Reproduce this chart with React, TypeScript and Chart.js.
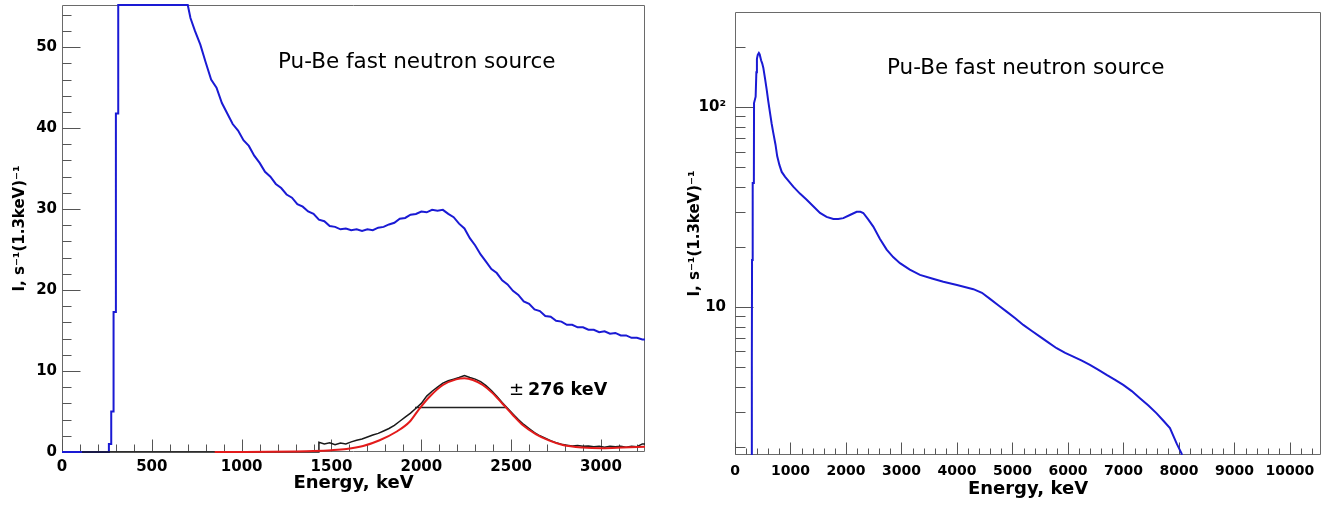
import React, { useEffect, useRef } from 'react';
import { Chart, registerables } from 'chart.js';

Chart.register(...registerables);

const FONT = '"DejaVu Sans", "Liberation Sans", sans-serif';

// ---------------- Left panel (linear) ----------------
const L_X_MAX = 3245;
const L_Y_MAX = 55.2;
const L_X_TICKS = [0, 500, 1000, 1500, 2000, 2500, 3000];
const L_Y_TICKS = [0, 10, 20, 30, 40, 50];

// blue spectrum (keV, intensity); leading pairs reproduce the histogram rising edge
const BLUE_E = [0, 261, 261, 274, 274, 287, 287, 300, 300, 313, 313, 330, 360, 400, 430, 470, 510, 560, 610, 660, 700, 715, 740, 770, 800, 830, 860, 890, 920, 950, 980, 1010, 1040, 1070, 1100, 1130, 1160, 1190, 1220, 1250, 1280, 1310, 1340, 1370, 1400, 1430, 1460, 1490, 1520, 1550, 1580, 1610, 1640, 1670, 1700, 1730, 1760, 1790, 1820, 1850, 1880, 1910, 1940, 1970, 2000, 2030, 2060, 2090, 2120, 2150, 2180, 2210, 2240, 2270, 2300, 2330, 2360, 2390, 2420, 2450, 2480, 2510, 2540, 2570, 2600, 2630, 2660, 2690, 2720, 2750, 2780, 2810, 2840, 2870, 2900, 2930, 2960, 2990, 3020, 3050, 3080, 3110, 3140, 3170, 3200, 3230, 3260];
const BLUE_V = [0, 0, 1.0, 1.0, 5.0, 5.0, 17.3, 17.3, 41.8, 41.8, 113, 165, 184, 187, 183, 172, 150, 118, 92, 72, 56, 53.6, 52.0, 50.3, 48.1, 46.0, 45.0, 43.1, 41.8, 40.5, 39.7, 38.5, 37.8, 36.6, 35.7, 34.6, 34.0, 33.1, 32.6, 31.8, 31.4, 30.6, 30.3, 29.7, 29.4, 28.7, 28.5, 27.9, 27.8, 27.5, 27.6, 27.4, 27.5, 27.3, 27.5, 27.4, 27.7, 27.8, 28.1, 28.3, 28.8, 28.9, 29.3, 29.4, 29.7, 29.6, 29.9, 29.8, 29.9, 29.4, 29.0, 28.2, 27.6, 26.4, 25.5, 24.4, 23.5, 22.6, 22.1, 21.2, 20.7, 19.9, 19.4, 18.6, 18.3, 17.6, 17.4, 16.8, 16.7, 16.2, 16.1, 15.7, 15.7, 15.4, 15.4, 15.1, 15.1, 14.8, 14.9, 14.6, 14.7, 14.4, 14.4, 14.1, 14.1, 13.9, 13.9];

// black (background-subtracted) spectrum
const BLACK_E = [111, 1430, 1430, 1460, 1490, 1520, 1550, 1580, 1610, 1640, 1670, 1700, 1730, 1760, 1790, 1820, 1850, 1880, 1910, 1940, 1970, 2000, 2030, 2060, 2090, 2120, 2150, 2180, 2210, 2240, 2270, 2300, 2330, 2360, 2390, 2420, 2450, 2480, 2510, 2540, 2570, 2600, 2630, 2660, 2690, 2720, 2750, 2780, 2810, 2840, 2870, 2900, 2930, 2960, 2990, 3020, 3050, 3080, 3110, 3140, 3170, 3200, 3230, 3260];
const BLACK_V = [0, 0, 1.2, 1.0, 1.15, 0.9, 1.1, 1.0, 1.25, 1.45, 1.6, 1.85, 2.1, 2.3, 2.6, 2.9, 3.3, 3.8, 4.3, 4.8, 5.4, 6.0, 6.9, 7.5, 8.0, 8.5, 8.8, 9.0, 9.2, 9.45, 9.2, 9.0, 8.7, 8.2, 7.6, 6.9, 6.1, 5.4, 4.7, 4.0, 3.4, 2.9, 2.4, 2.0, 1.7, 1.4, 1.15, 0.95, 0.85, 0.75, 0.8, 0.7, 0.75, 0.65, 0.7, 0.6, 0.7, 0.65, 0.7, 0.6, 0.7, 0.65, 1.0, 1.0];

// red fit
const FIT_E = [850, 1000, 1150, 1300, 1400, 1500, 1583, 1676, 1768, 1861, 1935, 1991, 2046, 2120, 2194, 2240, 2287, 2342, 2398, 2453, 2509, 2564, 2639, 2713, 2787, 2898, 3009, 3120, 3245];
const FIT_V = [0.0, 0.01, 0.03, 0.07, 0.12, 0.22, 0.37, 0.74, 1.45, 2.5, 3.74, 5.4, 6.83, 8.27, 8.97, 9.1, 8.89, 8.27, 7.24, 5.93, 4.57, 3.33, 2.18, 1.40, 0.86, 0.55, 0.47, 0.55, 0.66];

// FWHM marker
const FWHM_E = [1965, 2470];
const FWHM_V = [5.5, 5.5];

// ---------------- Right panel (log) ----------------
const R_X_MAX = 10560;
const R_Y_MIN = 1.82;
const R_Y_MAX = 300;
const R_X_TICKS = [0, 1000, 2000, 3000, 4000, 5000, 6000, 7000, 8000, 9000, 10000];
const R_Y_TICKS = [10, 100];

const LOG_E = [300, 301, 306, 307, 318, 320, 340, 343, 372, 385, 395, 410, 430, 445, 470, 490, 510, 540, 571, 600, 631, 660, 690, 730, 760, 800, 842, 900, 960, 1050, 1170, 1292, 1410, 1532, 1650, 1772, 1860, 1952, 2080, 2193, 2260, 2312, 2400, 2492, 2610, 2733, 2850, 2973, 3150, 3333, 3550, 3754, 4000, 4295, 4450, 4595, 4750, 4895, 5050, 5195, 5350, 5495, 5650, 5796, 5950, 6096, 6250, 6396, 6550, 6697, 6850, 6996, 7150, 7297, 7450, 7598, 7720, 7838, 7958, 8048, 8080];
const LOG_V = [1.0, 5.1, 5.1, 17.2, 17.2, 41.8, 41.8, 105, 113, 150, 175, 183, 187, 184, 172, 166, 158, 140, 122.6, 107, 93.8, 83, 74.5, 65, 57, 51.5, 47.5, 45.0, 43.0, 40.1, 37.0, 34.5, 32.0, 29.6, 28.3, 27.6, 27.6, 27.9, 29.0, 30.0, 30.0, 29.6, 27.5, 25.3, 22.0, 19.4, 17.8, 16.6, 15.4, 14.5, 13.9, 13.4, 12.9, 12.3, 11.8, 11.0, 10.2, 9.5, 8.8, 8.15, 7.6, 7.12, 6.65, 6.23, 5.9, 5.66, 5.4, 5.14, 4.85, 4.58, 4.33, 4.08, 3.8, 3.5, 3.22, 2.94, 2.7, 2.48, 2.08, 1.85, 1.5];

const TITLE_TEXT = 'Pu-Be fast neutron source';
const Y_TITLE = 'I, s\u207B\u00B9(1.3keV)\u207B\u00B9';
const X_TITLE = 'Energy, keV';
const FWHM_LABEL = '276 keV';

const BLUE = '#1a1ad4';
const RED = '#e31b1b';
const AXIS = '#6a6a6a';

function pts(xs: number[], ys: number[], cap?: number) {
  return xs.map((x, i) => ({ x, y: cap !== undefined ? Math.min(ys[i], cap) : ys[i] }));
}

type FrameCfg = {
  xMajor: number[];
  xMinor: number[];
  yMajor: number[];
  yMinor: number[];
  xMajLen: number;
  xMinLen: number;
  yMajLen: number;
  yMinLen: number;
  draw: (ctx: CanvasRenderingContext2D, chart: any) => void;
};

function makeFrame(cfg: FrameCfg) {
  return {
    id: 'rootFrame',
    beforeDatasetsDraw(chart: any) {
      const { ctx, chartArea: a, scales } = chart;
      const L = Math.round(a.left) + 0.5;
      const R = Math.round(a.right) - 0.5;
      const T = Math.round(a.top) + 0.5;
      const B = Math.round(a.bottom) - 0.5;
      ctx.save();
      ctx.strokeStyle = AXIS;
      ctx.lineWidth = 1;
      ctx.beginPath();
      ctx.moveTo(L, T);
      ctx.lineTo(R, T);
      ctx.lineTo(R, B);
      ctx.lineTo(L, B);
      ctx.closePath();
      ctx.stroke();
      ctx.strokeStyle = '#555';
      ctx.beginPath();
      const xs = scales.x;
      const ys = scales.y;
      const hx = (v: number, len: number) => {
        const p = Math.round(xs.getPixelForValue(v)) + 0.5;
        ctx.moveTo(p, B);
        ctx.lineTo(p, B - len);
      };
      const hy = (v: number, len: number) => {
        const p = Math.round(ys.getPixelForValue(v)) + 0.5;
        ctx.moveTo(L, p);
        ctx.lineTo(L + len, p);
      };
      cfg.xMajor.forEach((v) => hx(v, cfg.xMajLen));
      cfg.xMinor.forEach((v) => hx(v, cfg.xMinLen));
      cfg.yMajor.forEach((v) => hy(v, cfg.yMajLen));
      cfg.yMinor.forEach((v) => hy(v, cfg.yMinLen));
      ctx.stroke();
      ctx.restore();
    },
    afterDraw(chart: any) {
      const ctx = chart.ctx as CanvasRenderingContext2D;
      ctx.save();
      cfg.draw(ctx, chart);
      ctx.restore();
    },
  };
}

function axisX(max: number, ticks: number[], tickSize: number, titlePadBottom: number, height: number, tickPad: number) {
  return {
    type: 'linear' as const,
    min: 0,
    max,
    grid: { display: false, drawTicks: false },
    border: { display: false },
    afterBuildTicks: (s: any) => {
      s.ticks = ticks.map((v) => ({ value: v }));
    },
    afterFit: (s: any) => {
      s.height = height;
      s.paddingLeft = 0;
      s.paddingRight = 0;
    },
    ticks: {
      autoSkip: false,
      maxRotation: 0,
      padding: tickPad,
      color: '#000',
      font: { family: FONT, size: tickSize, weight: 'bold' as const },
      callback: (v: any) => String(v),
    },
    title: {
      display: true,
      text: X_TITLE,
      color: '#000',
      font: { family: FONT, size: 18, weight: 'bold' as const },
      padding: { top: 0, bottom: titlePadBottom },
    },
  };
}

function LeftPanel() {
  const ref = useRef<HTMLCanvasElement>(null);
  useEffect(() => {
    const xMinor: number[] = [];
    for (let v = 100; v <= 3200; v += 100) if (v % 500 !== 0) xMinor.push(v);
    const yMinor: number[] = [];
    for (let v = 2; v <= 54; v += 2) if (v % 10 !== 0) yMinor.push(v);
    const frame = makeFrame({
      xMajor: L_X_TICKS,
      xMinor,
      yMajor: L_Y_TICKS,
      yMinor,
      xMajLen: 12,
      xMinLen: 7,
      yMajLen: 18,
      yMinLen: 9,
      draw: (ctx) => {
        ctx.fillStyle = '#000';
        ctx.textBaseline = 'alphabetic';
        ctx.font = `21.5px ${FONT}`;
        ctx.fillText(TITLE_TEXT, 278, 68);
        ctx.font = `18px ${FONT}`;
        ctx.fillText('\u00B1', 509, 395);
        ctx.font = `bold 17.5px ${FONT}`;
        ctx.fillText(FWHM_LABEL, 528, 395);
      },
    });
    const clip = { left: 0, top: 3, right: 0, bottom: 3 };
    const chart = new Chart(ref.current!, {
      type: 'line',
      data: {
        datasets: [
          {
            data: pts(FIT_E, FIT_V),
            borderColor: RED,
            borderWidth: 2,
            pointRadius: 0,
            cubicInterpolationMode: 'monotone',
            clip,
          },
          {
            data: pts(FWHM_E, FWHM_V),
            borderColor: '#222',
            borderWidth: 1.5,
            pointRadius: 0,
          },
          {
            data: pts(BLACK_E, BLACK_V),
            borderColor: '#1a1a1a',
            borderWidth: 1.5,
            pointRadius: 0,
            clip,
          },
          {
            data: pts(BLUE_E, BLUE_V, L_Y_MAX),
            borderColor: BLUE,
            borderWidth: 2,
            pointRadius: 0,
            clip,
          },
        ],
      } as any,
      options: {
        animation: false,
        responsive: false,
        devicePixelRatio: 1,
        parsing: false as any,
        layout: { padding: { left: 0, right: 20, top: 5, bottom: 0 } },
        plugins: { legend: { display: false }, tooltip: { enabled: false } },
        scales: {
          x: axisX(L_X_MAX, L_X_TICKS, 15, 11, 53, 6),
          y: {
            type: 'linear',
            min: 0,
            max: L_Y_MAX,
            grid: { display: false, drawTicks: false },
            border: { display: false },
            afterBuildTicks: (s: any) => {
              s.ticks = L_Y_TICKS.map((v) => ({ value: v }));
            },
            afterFit: (s: any) => {
              s.width = 62;
              s.paddingTop = 0;
              s.paddingBottom = 0;
            },
            ticks: {
              padding: 5,
              color: '#000',
              font: { family: FONT, size: 15, weight: 'bold' },
              callback: (v: any) => String(v),
            },
            title: {
              display: true,
              text: Y_TITLE,
              color: '#000',
              font: { family: FONT, size: 15, weight: 'bold' },
              padding: { top: 11, bottom: 0 },
            },
          },
        },
      } as any,
      plugins: [frame],
    });
    return () => chart.destroy();
  }, []);
  return <canvas ref={ref} width={665} height={505} style={{ position: 'absolute', left: 0, top: 0, width: 665, height: 505 }} />;
}

function RightPanel() {
  const ref = useRef<HTMLCanvasElement>(null);
  useEffect(() => {
    const xMinor: number[] = [];
    for (let v = 200; v <= 10400; v += 200) if (v % 1000 !== 0) xMinor.push(v);
    const yMinor = [2, 3, 4, 5, 6, 7, 8, 9, 20, 30, 40, 50, 60, 70, 80, 90, 200];
    const frame = makeFrame({
      xMajor: R_X_TICKS,
      xMinor,
      yMajor: R_Y_TICKS,
      yMinor,
      xMajLen: 12,
      xMinLen: 6,
      yMajLen: 18,
      yMinLen: 10,
      draw: (ctx) => {
        ctx.fillStyle = '#000';
        ctx.textBaseline = 'alphabetic';
        ctx.font = `21.5px ${FONT}`;
        ctx.fillText(TITLE_TEXT, 222, 74);
      },
    });
    const chart = new Chart(ref.current!, {
      type: 'line',
      data: {
        datasets: [
          {
            data: pts(LOG_E, LOG_V),
            borderColor: BLUE,
            borderWidth: 2,
            pointRadius: 0,
          },
        ],
      } as any,
      options: {
        animation: false,
        responsive: false,
        devicePixelRatio: 1,
        parsing: false as any,
        layout: { padding: { left: 0, right: 17, top: 12, bottom: 0 } },
        plugins: { legend: { display: false }, tooltip: { enabled: false } },
        scales: {
          x: axisX(R_X_MAX, R_X_TICKS, 14, 5, 50, 8),
          y: {
            type: 'logarithmic',
            min: R_Y_MIN,
            max: R_Y_MAX,
            grid: { display: false, drawTicks: false },
            border: { display: false },
            afterBuildTicks: (s: any) => {
              s.ticks = R_Y_TICKS.map((v) => ({ value: v }));
            },
            afterFit: (s: any) => {
              s.width = 70;
              s.paddingTop = 0;
              s.paddingBottom = 0;
            },
            ticks: {
              padding: 9,
              color: '#000',
              font: { family: FONT, size: 15, weight: 'bold' },
              callback: (v: any) => (v === 100 ? '10\u00B2' : String(v)),
            },
            title: {
              display: true,
              text: Y_TITLE,
              color: '#000',
              font: { family: FONT, size: 15, weight: 'bold' },
              padding: { top: 21, bottom: 0 },
            },
          },
        },
      } as any,
      plugins: [frame],
    });
    return () => chart.destroy();
  }, []);
  return <canvas ref={ref} width={673} height={505} style={{ position: 'absolute', left: 665, top: 0, width: 673, height: 505 }} />;
}

export default function App() {
  return (
    <div style={{ position: 'fixed', left: 0, top: 0, width: 1338, height: 505, background: '#fff', overflow: 'hidden' }}>
      <LeftPanel />
      <RightPanel />
    </div>
  );
}
